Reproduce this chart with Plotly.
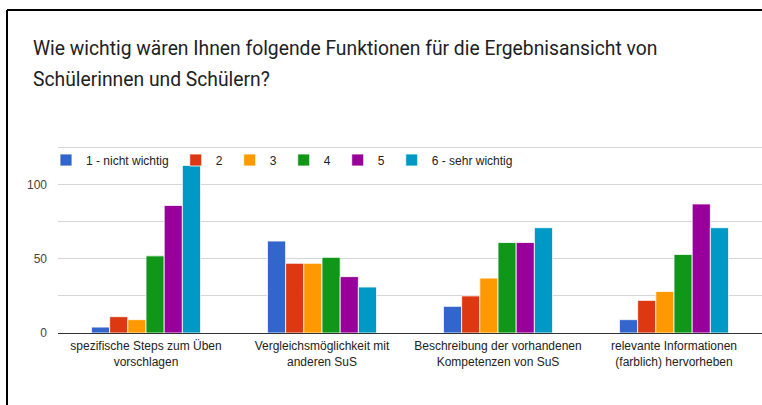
import plotly.graph_objects as go

categories = [
    "spezifische Steps zum Üben<br>vorschlagen",
    "Vergleichsmöglichkeit mit<br>anderen SuS",
    "Beschreibung der vorhandenen<br>Kompetenzen von SuS",
    "relevante Informationen<br>(farblich) hervorheben",
]
series_names = ["1 - nicht wichtig", "2", "3", "4", "5", "6 - sehr wichtig"]
s1 = [4, 62, 18, 9]
s2 = [11, 47, 25, 22]
s3 = [9, 47, 37, 28]
s4 = [52, 51, 61, 53]
s5 = [86, 38, 61, 87]
s6 = [113, 31, 71, 71]
series_values = [s1, s2, s3, s4, s5, s6]
colors = ["#3366cc", "#dc3912", "#ff9900", "#109618", "#990099", "#0099c6"]
y_tickvals = [0, 25, 50, 75, 100, 125]
y_ticktext = ["0", "", "50", "", "100", ""]
title_lines = [
    "Wie wichtig wären Ihnen folgende Funktionen für die Ergebnisansicht von",
    "Schülerinnen und Schülern?",
]

W, H = 762, 405
L, R, T, B = 58, 0, 143, 72
pw = W - L - R
ph = H - T - B

def px_x(p):
    return (p - L) / pw

def px_y(p):
    return (H - B - p) / ph

fig = go.Figure()
for name, vals, col in zip(series_names, series_values, colors):
    fig.add_trace(go.Bar(
        x=categories, y=vals, name=name,
        marker=dict(color=col, line=dict(color="rgba(255,255,255,0.8)", width=1)),
    ))

fig.update_layout(
    width=W, height=H,
    margin=dict(l=L, r=R, t=T, b=B, autoexpand=False),
    paper_bgcolor="white", plot_bgcolor="white",
    barmode="group", bargap=0.38, bargroupgap=0.0,
    font=dict(family="Arial, Liberation Sans, sans-serif", size=12, color="#222222"),
    legend=dict(
        orientation="h", xref="container", x=44 / W, xanchor="left",
        y=px_y(160), yanchor="middle", indentation=2, itemwidth=30,
        font=dict(size=12, color="#222222"), bgcolor="rgba(0,0,0,0)",
        traceorder="normal",
    ),
    showlegend=True,
)
for line, yc in zip(title_lines, [48, 79]):
    fig.add_annotation(
        text=line, xref="paper", yref="paper", x=px_x(31), y=px_y(yc),
        xanchor="left", yanchor="middle", showarrow=False,
        font=dict(family="Roboto, sans-serif", size=19.3, color="#202124"),
    )

fig.update_xaxes(
    showgrid=False, showline=False, ticks="", tickfont=dict(size=12, color="#222222"),
    ticklabelstandoff=4, tickangle=0, automargin=False,
)
fig.update_yaxes(
    range=[0, 128.1], tickvals=y_tickvals, ticktext=y_ticktext,
    showgrid=True, gridcolor="#d6d6d6", gridwidth=1,
    zeroline=True, zerolinecolor="#333333", zerolinewidth=1,
    tickfont=dict(size=12, color="#444444"), ticks="", ticklabelstandoff=10,
    automargin=False,
)

# frame border (top and left edges visible in the reference crop)
fig.add_shape(type="line", xref="paper", yref="paper",
              x0=px_x(7), x1=px_x(W + 5), y0=px_y(10), y1=px_y(10),
              line=dict(color="black", width=2))
fig.add_shape(type="line", xref="paper", yref="paper",
              x0=px_x(7), x1=px_x(7), y0=px_y(10), y1=px_y(H + 5),
              line=dict(color="black", width=2))

fig.write_html("out.html", config={"displayModeBar": False},
               post_script="document.body.style.margin='0';")
